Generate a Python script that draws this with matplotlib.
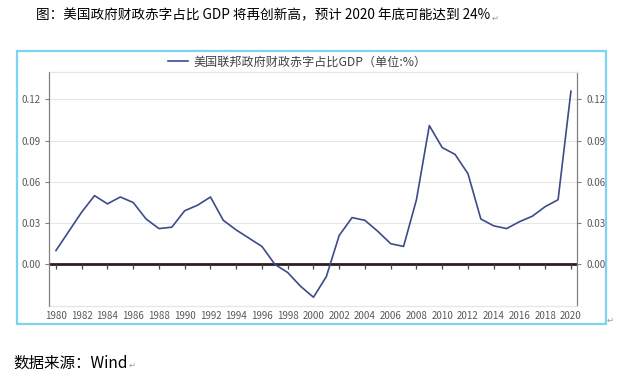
import numpy as np
import matplotlib.pyplot as plt
from matplotlib.patches import Rectangle

plt.rcParams['font.family'] = ['Noto Sans CJK SC', 'DejaVu Sans']

# 美国联邦政府财政赤字占比GDP
years = list(range(1980, 2021))
deficit = [0.010, 0.024, 0.038, 0.050, 0.044, 0.049, 0.045, 0.033, 0.026, 0.027,
           0.039, 0.043, 0.049, 0.032, 0.025, 0.019, 0.013, 0.000, -0.006, -0.016,
           -0.024, -0.009, 0.021, 0.034, 0.032, 0.024, 0.015, 0.013, 0.047, 0.101,
           0.085, 0.080, 0.066, 0.033, 0.028, 0.026, 0.031, 0.035, 0.042, 0.047,
           0.126]
yticks = [0.00, 0.03, 0.06, 0.09, 0.12]
xticks = list(range(1980, 2021, 2))

title = '图：美国政府财政赤字占比 GDP 将再创新高，预计 2020 年底可能达到 24%'
legend_label = '美国联邦政府财政赤字占比GDP（单位:%）'
source = '数据来源：Wind'

fig = plt.figure(figsize=(6.21, 3.81), dpi=100)

# chart frame
fig.patches.append(Rectangle((17 / 621, 1 - 324 / 381), 589 / 621, 273 / 381,
                             transform=fig.transFigure, fill=False,
                             edgecolor='#7dd3f2', linewidth=1.6))

ax = fig.add_axes([49.5 / 621, 1 - 305.5 / 381, 527.5 / 621, 233.5 / 381])
line_c = '#3d4b8a'
ax.plot(years, deficit, color=line_c, lw=1.2, label=legend_label, zorder=3)
ax.set_xlim(1979.5, 2020.47)
ax.set_ylim(-0.03, 0.14)

grey = '#595959'
ax.set_yticks(yticks)
ax.set_yticklabels(['%.2f' % v for v in yticks])
ax.tick_params(axis='y', colors='#808080', labelcolor=grey, labelsize=7,
               length=3, width=0.8, left=True, right=True, labelright=True)
ax.grid(axis='y', color='#e6e6e6', lw=0.8)
ax.set_axisbelow(True)

# x ticks sit on the zero line, labels at the bottom
ax.set_xticks(xticks)
ax.tick_params(axis='x', length=0, labelsize=7, labelcolor=grey, pad=4)
ax.axhline(0, color='#2b1f1f', lw=2, zorder=2)
ax.vlines(xticks, -0.0035, 0, color='#444444', lw=0.9, zorder=2)

for s in ['left', 'right']:
    ax.spines[s].set_color('#808080')
    ax.spines[s].set_linewidth(0.9)
for s in ['top', 'bottom']:
    ax.spines[s].set_color('#e6e6e6')
    ax.spines[s].set_linewidth(0.9)

ax.legend(loc='lower center', bbox_to_anchor=(0.47, 0.995), frameon=False,
          fontsize=8.7, handlelength=1.6, handletextpad=0.5,
          labelcolor='#404040', borderaxespad=0)

fig.text(36 / 621, 1 - 15 / 381, title, fontsize=9.8, va='center', ha='left',
         color='#000000')
fig.text(492 / 621, 1 - 18 / 381, '↵', fontsize=6, va='center', ha='left',
         color='#999999', family='DejaVu Sans')
fig.text(13 / 621, 1 - 363 / 381, source, fontsize=11.2, va='center', ha='left',
         color='#000000')
fig.text(129 / 621, 1 - 365 / 381, '↵', fontsize=6, va='center', ha='left',
         color='#999999', family='DejaVu Sans')
fig.text(607 / 621, 1 - 320 / 381, '↵', fontsize=6, va='center', ha='left',
         color='#999999', family='DejaVu Sans')

fig.savefig('out.png', dpi=100)
